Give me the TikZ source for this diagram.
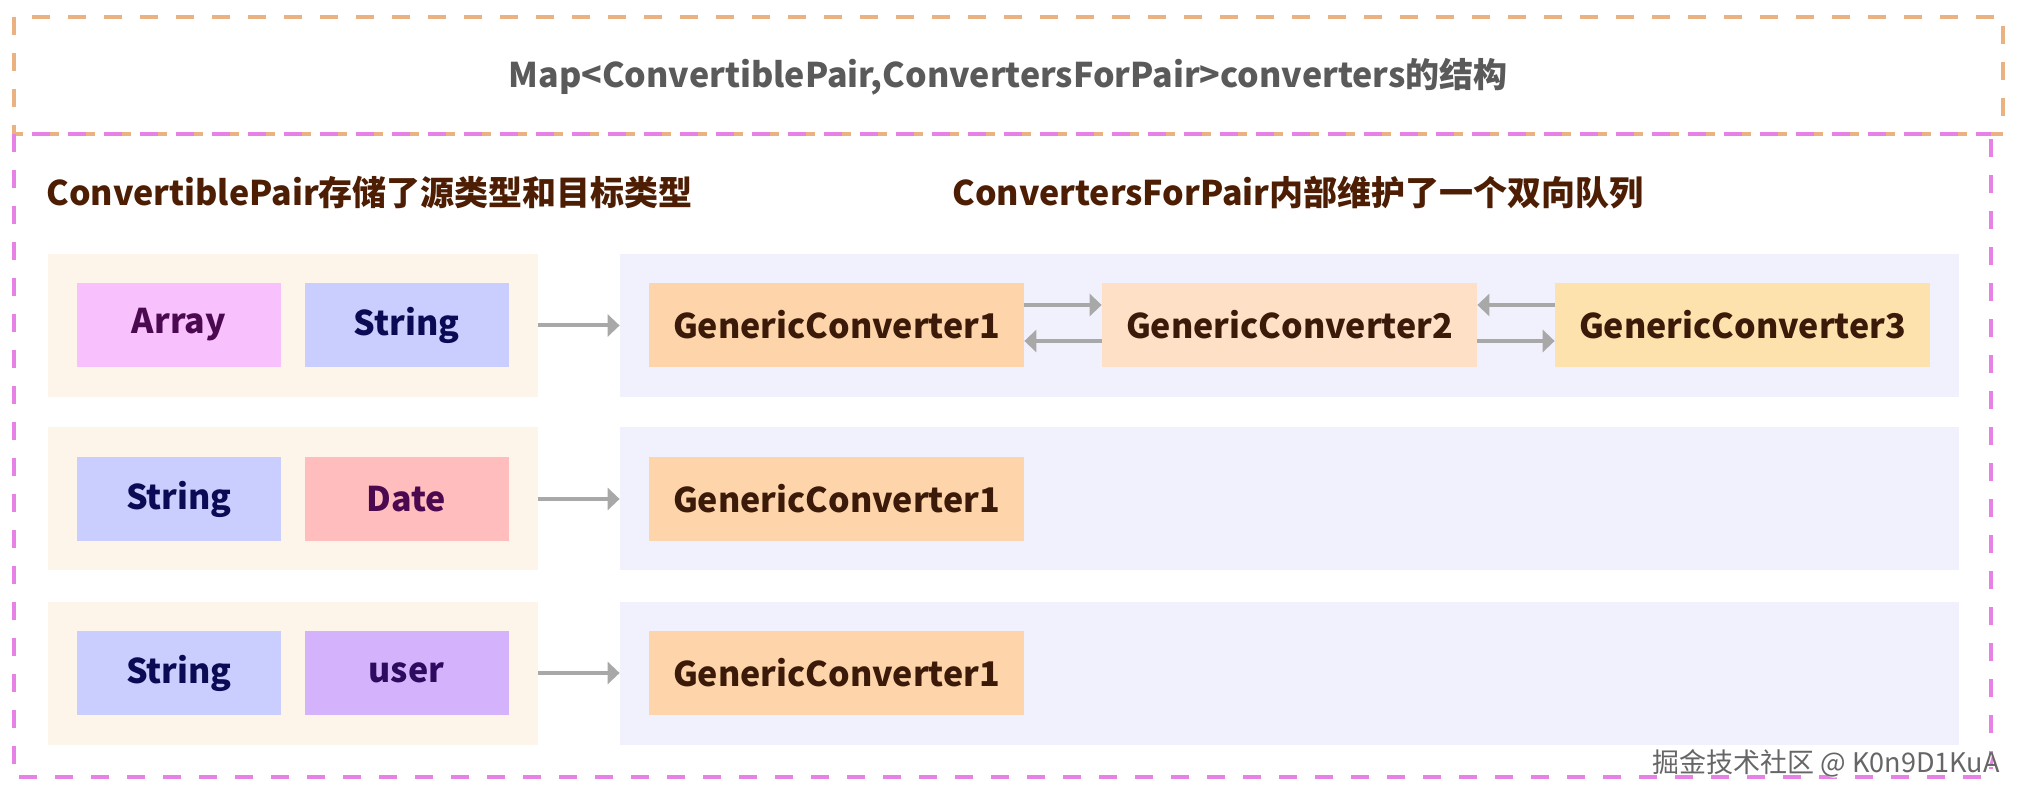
\documentclass[tikz,border=0pt]{standalone}
\usepackage{fontspec}
\setmainfont{Noto Sans CJK SC}
\usetikzlibrary{arrows.meta}
\definecolor{borderor}{RGB}{233,178,128}
\definecolor{borderpk}{RGB}{230,130,230}
\definecolor{cream}{RGB}{254,245,234}
\definecolor{lav}{RGB}{241,241,253}
\definecolor{arrayc}{RGB}{248,192,252}
\definecolor{stringc}{RGB}{202,206,254}
\definecolor{datec}{RGB}{255,189,189}
\definecolor{userc}{RGB}{213,179,252}
\definecolor{gcone}{RGB}{254,213,170}
\definecolor{gctwo}{RGB}{253,224,198}
\definecolor{gcthree}{RGB}{254,226,173}
\definecolor{headc}{RGB}{77,30,4}
\definecolor{gctext}{RGB}{59,26,10}
\definecolor{purptext}{RGB}{75,10,80}
\definecolor{navytext}{RGB}{11,11,85}
\definecolor{usertext}{RGB}{45,11,94}
\definecolor{titlec}{RGB}{90,90,90}
\definecolor{arrc}{RGB}{168,168,168}
\begin{document}
\begin{tikzpicture}[x=0.5pt,y=-0.5pt,
  txt/.style={font=\fontsize{17pt}{20pt}\selectfont\bfseries},
  container/.style={draw=none,minimum width=#1,minimum height=71.5pt,inner sep=0pt},
  small/.style={draw=none,minimum width=102pt,minimum height=42pt,inner sep=0pt,txt},
  gcbox/.style={draw=none,minimum width=187.5pt,minimum height=42pt,inner sep=0pt,txt,text=gctext},
  conn/.style={draw=arrc,line width=2pt,-{Triangle[width=11pt,length=6pt]}},
  dashor/.style={draw=borderor,line width=2pt,dash pattern=on 9pt off 9pt},
  dashpk/.style={draw=borderpk,line width=2pt,dash pattern=on 9pt off 9pt}]
\useasboundingbox (0,0) rectangle (2023,801);
\fill[white] (0,0) rectangle (2023,801);
% outer frames
\draw[dashor] (14,17) rectangle (2003,134);
\draw[dashpk] (14,134) -- (14,777) -- (1991,777) -- (1991,134);
\draw[dashpk,dash phase=9pt] (14,134) -- (1991,134);
\node[txt,text=titlec] (title) at (1008,77) {Map<ConvertiblePair,ConvertersForPair>converters的结构};
\node[txt,text=headc,anchor=west,inner sep=0pt] (hleft) at (46,193) {ConvertiblePair存储了源类型和目标类型};
\node[txt,text=headc,anchor=west,inner sep=0pt] (hright) at (952,193) {ConvertersForPair内部维护了一个双向队列};
% row 1
\node[container=245pt,fill=cream] (c1) at (293,325.5) {};
\node[container=669.5pt,fill=lav] (l1) at (1289.5,325.5) {};
\node[small,fill=arrayc,text=purptext] (a1) at (179,325) {Array};
\node[small,fill=stringc,text=navytext] (b1) at (406.5,325) {String};
\node[gcbox,fill=gcone] (g11) at (836.5,325) {GenericConverter1};
\node[gcbox,fill=gctwo] (g12) at (1289.5,325) {GenericConverter2};
\node[gcbox,fill=gcthree] (g13) at (1742.5,325) {GenericConverter3};
\draw[conn] (c1.east) -- (l1.west);
\draw[conn] ([yshift=10pt]g11.east) -- ([yshift=10pt]g12.west);
\draw[conn] ([yshift=-8pt]g12.west) -- ([yshift=-8pt]g11.east);
\draw[conn] ([yshift=10pt]g13.west) -- ([yshift=10pt]g12.east);
\draw[conn] ([yshift=-8pt]g12.east) -- ([yshift=-8pt]g13.west);
% row 2
\node[container=245pt,fill=cream] (c2) at (293,499) {};
\node[container=669.5pt,fill=lav] (l2) at (1289.5,499) {};
\node[small,fill=stringc,text=navytext] (a2) at (179,499) {String};
\node[small,fill=datec,text=purptext] (b2) at (406.5,499) {Date};
\node[gcbox,fill=gcone] (g21) at (836.5,499) {GenericConverter1};
\draw[conn] (c2.east) -- (l2.west);
% row 3
\node[container=245pt,fill=cream] (c3) at (293,673) {};
\node[container=669.5pt,fill=lav] (l3) at (1289.5,673) {};
\node[small,fill=stringc,text=navytext] (a3) at (179,673) {String};
\node[small,fill=userc,text=usertext] (b3) at (406.5,673) {user};
\node[gcbox,fill=gcone] (g31) at (836.5,673) {GenericConverter1};
\draw[conn] (c3.east) -- (l3.west);
% watermark
\node[anchor=east,inner sep=0pt,font=\fontsize{13.5pt}{15pt}\selectfont,text=white] at (2001.5,764.5) {掘金技术社区 @ K0n9D1KuA};
\node[anchor=east,inner sep=0pt,font=\fontsize{13.5pt}{15pt}\selectfont,text=gray!80!black] (wm) at (2000,763) {掘金技术社区 @ K0n9D1KuA};
\end{tikzpicture}
\end{document}
